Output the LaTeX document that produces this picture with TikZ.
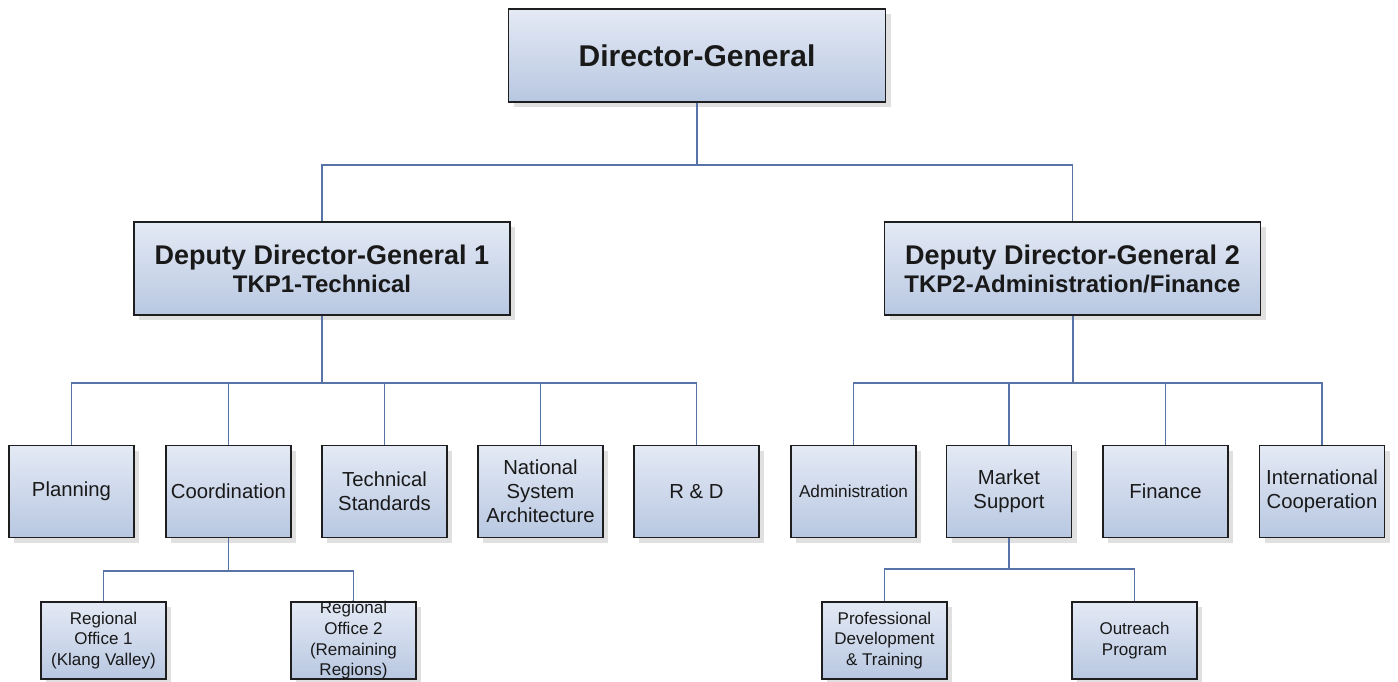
\documentclass[tikz,border=0pt]{standalone}
\usepackage{fontspec}
\setmainfont{Liberation Sans}
\usetikzlibrary{shadows}
\definecolor{boxtop}{RGB}{228,234,245}
\definecolor{boxbot}{RGB}{184,199,225}
\definecolor{edgecol}{RGB}{88,116,166}
\definecolor{bordercol}{RGB}{30,30,30}
\definecolor{txtcol}{RGB}{25,25,25}
\begin{document}
\begin{tikzpicture}[x=1pt,y=-1pt,
  orgbox/.style={draw=bordercol, line width=1.5pt, top color=boxtop, bottom color=boxbot,
    drop shadow={shadow xshift=5pt, shadow yshift=-5pt, fill=black!30, opacity=0.4},
    align=center, inner sep=0pt, text=txtcol},
  topbox/.style={orgbox, minimum width=377pt, minimum height=93pt, font=\fontsize{30}{36}\selectfont\bfseries},
  deputybox/.style={orgbox, minimum width=376pt, minimum height=93pt, font=\fontsize{24}{28}\selectfont\bfseries},
  unitbox/.style={orgbox, minimum width=125pt, minimum height=92pt, font=\fontsize{20.3}{24}\selectfont},
  subbox/.style={orgbox, minimum width=125pt, minimum height=77pt, font=\fontsize{17}{20.7}\selectfont},
  conn/.style={draw=edgecol, line width=1.3pt},
  trunk/.style={draw=edgecol, line width=2pt}
]
\useasboundingbox[fill=white] (0,0) rectangle (1398,681);

% nodes
\node[topbox] (dg) at (697,55.5) {Director-General};
\node[deputybox] (d1) at (322,268.5) {{\fontsize{27}{28}\selectfont Deputy Director-General 1}\\TKP1-Technical};
\node[deputybox] (d2) at (1072.5,268.5) {{\fontsize{27}{28}\selectfont Deputy Director-General 2}\\TKP2-Administration/Finance};

\node[unitbox] (plan) at (71.5,491.5) {Planning};
\node[unitbox] (coord) at (228.5,491.5) {Coordination};
\node[unitbox] (tech) at (384.5,491.5) {Technical\\Standards};
\node[unitbox] (nsa) at (540.5,491.5) {National\\System\\Architecture};
\node[unitbox] (rd) at (696.5,491.5) {R \& D};
\node[unitbox, font=\fontsize{17.2}{20.5}\selectfont] (adm) at (853.5,491.5) {Administration};
\node[unitbox] (mkt) at (1009,491.5) {Market\\Support};
\node[unitbox] (fin) at (1165.5,491.5) {Finance};
\node[unitbox] (intl) at (1322,491.5) {International\\Cooperation};

\node[subbox] (ro1) at (103.5,640.5) {Regional\\Office 1\\(Klang Valley)};
\node[subbox] (ro2) at (353.5,640.5) {};
\node[font=\fontsize{17}{20.7}\selectfont, text=txtcol, align=center, inner sep=0pt] (ro2t) at (ro2.center) {Regional\\Office 2\\(Remaining\\Regions)};
\node[subbox] (pdt) at (884.5,640.5) {Professional\\Development\\\& Training};
\node[subbox] (outr) at (1134.5,640.5) {Outreach\\Program};

% junctions
\coordinate (j0) at (697,165);
\coordinate (j1) at (322,383);
\coordinate (j2) at (1072.5,383);
\coordinate (j3) at (228.5,571);
\coordinate (j4) at (1009,569);

% connectors
\draw[conn] (dg.south) -- (j0);
\draw[conn] (j0) -| (d1.north);
\draw[conn] (j0) -| (d2.north);

\draw[trunk] (d1.south) -- (j1);
\foreach \c in {plan,coord,tech,nsa,rd} \draw[conn] (j1) -| (\c.north);
\draw[trunk] (d2.south) -- (j2);
\foreach \c in {adm,mkt,fin,intl} \draw[conn] (j2) -| (\c.north);

\draw[conn] (coord.south) -- (j3);
\draw[conn] (j3) -| (ro1.north);
\draw[conn] (j3) -| (ro2.north);
\draw[conn] (mkt.south) -- (j4);
\draw[conn] (j4) -| (pdt.north);
\draw[conn] (j4) -| (outr.north);
\end{tikzpicture}
\end{document}
